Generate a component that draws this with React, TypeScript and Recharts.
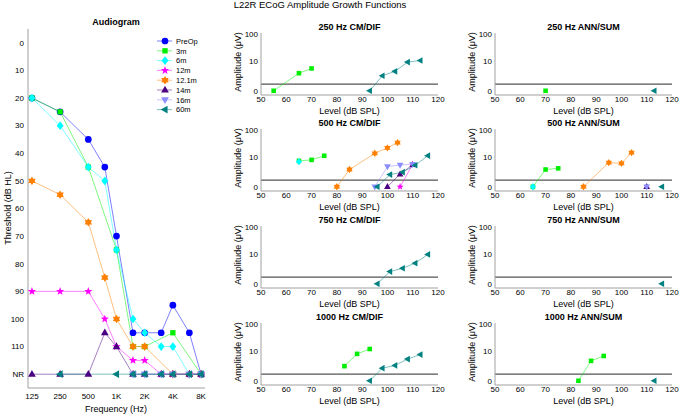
import { Line, LineChart, ReferenceLine, XAxis, YAxis } from 'recharts';

// audiogram
const FREQ_HZ = [125, 250, 500, 750, 1000, 1500, 2000, 3000, 4000, 6000, 8000];
const OCTAVE_LABELS = ['125', '250', '500', '1K', '2K', '4K', '8K'];
const THRESH_TICKS = [0, 10, 20, 30, 40, 50, 60, 70, 80, 90, 100, 110, 120];
const PREOP = [20, 25, 35, 45, 70, 105, 105, 105, 95, 105, 120];
const M3 = [20, 25, 45, null, 75, 110, 110, null, 105, null, 120];
const M6 = [20, 30, 45, 50, 75, 100, 105, 110, 110, 120, 120];
const M12 = [90, 90, 90, 100, 110, 115, 115, 120, 120, 120, 120];
const M12_1 = [50, 55, 65, 85, 100, 110, 110, null, 120, 120, 120];
const M14 = [120, 120, 120, 105, 110, 120, 120, 120, 120, 120, 120];
const M16 = [null, null, null, null, null, 120, 120, 120, 120, 120, 120];
const M60 = [null, 120, null, null, 120, 120, 120, 120, 120, 120, 120];

// growth functions: [level dB SPL, amplitude uV]
const LEVEL_TICKS = [50, 60, 70, 80, 90, 100, 110, 120];
const AMP_TICKS = [0, 10, 100];
const NOISE_FLOOR = 0.72;

const CM250_3M = [[55, 0], [65, 3.2], [70, 5.2]];
const CM250_60M = [[93, 0], [98, 2.4], [103, 3.9], [108, 9.4], [113, 10.9]];
const SUM250_3M = [[70, 0]];
const SUM250_60M = [[113, 0]];

const CM500_3M = [[65, 7.3], [70, 8], [75, 11.6]];
const CM500_6M = [[65, 6.8]];
const CM500_12M = [[105, 0], [110, 5.2]];
const CM500_12_1M = [[80, 0], [85, 3.1], [95, 14.4], [100, 23], [104, 36]];
const CM500_14M = [[100, 0], [105, 1.8], [110, 5]];
const CM500_16M = [[95, 0], [100, 4.2], [105, 4.9], [110, 5.3]];
const CM500_60M = [[96, 0], [101, 1.7], [106, 2.3], [111, 4.8], [116, 11.7]];
const SUM500_3M = [[65, 0], [70, 3.1], [75, 3.5]];
const SUM500_6M = [[65, 0]];
const SUM500_12_1M = [[85, 0], [95, 6.2], [100, 5.8], [104, 15.3]];
const SUM500_14M = [[110, 0]];
const SUM500_16M = [[110, 0]];
const SUM500_60M = [[116, 0]];

const CM750_60M = [[96, 0], [101, 1.7], [106, 2.55], [111, 4.4], [116, 10]];
const SUM750_60M = [[116, 0]];

const CM1000_3M = [[83, 2.3], [88, 8], [93, 12.4]];
const CM1000_60M = [[93, 0], [98, 1.8], [103, 2.5], [108, 4.9], [113, 7.5]];
const SUM1000_3M = [[83, 0], [88, 4.1], [93, 6.6]];
const SUM1000_60M = [[113, 0]];

const FONT = '"Liberation Sans", Arial, sans-serif';
const AXIS = '#a0a0a0';
const TICK = { fontSize: 8, fill: '#000', fontFamily: FONT };

type Shape = 'circle' | 'square' | 'diamond' | 'star5' | 'hex' | 'up' | 'down' | 'left';

const STYLES: Record<string, { name: string; color: string; shape: Shape }> = {
  preop: { name: 'PreOp', color: '#0000ff', shape: 'circle' },
  m3: { name: '3m', color: '#00ee00', shape: 'square' },
  m6: { name: '6m', color: '#00ffff', shape: 'diamond' },
  m12: { name: '12m', color: '#ff00ff', shape: 'star5' },
  m12_1: { name: '12.1m', color: '#ff8000', shape: 'hex' },
  m14: { name: '14m', color: '#4b0082', shape: 'up' },
  m16: { name: '16m', color: '#8c8cff', shape: 'down' },
  m60: { name: '60m', color: '#008080', shape: 'left' },
};
const ORDER = ['preop', 'm3', 'm6', 'm12', 'm12_1', 'm14', 'm16', 'm60'];
const AUDIO_VALUES: Record<string, (number | null)[]> = {
  preop: PREOP, m3: M3, m6: M6, m12: M12, m12_1: M12_1, m14: M14, m16: M16, m60: M60,
};

const AUDIO_ROWS = FREQ_HZ.map((f, i) => {
  const row: Record<string, number | null> = { x: Math.log2(f / 125) };
  ORDER.forEach((k) => (row[k] = AUDIO_VALUES[k][i]));
  return row;
});

const toT = (v: number) => Math.log10(1 + v);
const pts = (arr: number[][]) => arr.map(([x, v]) => ({ x, t: toT(v) }));

const PANELS = [
  { title: '250 Hz CM/DIF', col: 0, row: 0, series: { m3: CM250_3M, m60: CM250_60M } },
  { title: '250 Hz ANN/SUM', col: 1, row: 0, series: { m3: SUM250_3M, m60: SUM250_60M } },
  {
    title: '500 Hz CM/DIF', col: 0, row: 1,
    series: { m3: CM500_3M, m6: CM500_6M, m12: CM500_12M, m12_1: CM500_12_1M, m14: CM500_14M, m16: CM500_16M, m60: CM500_60M },
  },
  {
    title: '500 Hz ANN/SUM', col: 1, row: 1,
    series: { m3: SUM500_3M, m6: SUM500_6M, m12_1: SUM500_12_1M, m14: SUM500_14M, m16: SUM500_16M, m60: SUM500_60M },
  },
  { title: '750 Hz CM/DIF', col: 0, row: 2, series: { m60: CM750_60M } },
  { title: '750 Hz ANN/SUM', col: 1, row: 2, series: { m60: SUM750_60M } },
  { title: '1000 Hz CM/DIF', col: 0, row: 3, series: { m3: CM1000_3M, m60: CM1000_60M } },
  { title: '1000 Hz ANN/SUM', col: 1, row: 3, series: { m3: SUM1000_3M, m60: SUM1000_60M } },
];

const COL_X = [261, 495];
const ROW_Y = [33, 129, 226, 323];

function Marker({ cx, cy, shape, color, s }: { cx: number; cy: number; shape: Shape; color: string; s: number }) {
  if (shape === 'circle') return <circle cx={cx} cy={cy} r={s * 0.78} fill={color} />;
  if (shape === 'square') return <rect x={cx - s * 0.62} y={cy - s * 0.62} width={s * 1.24} height={s * 1.24} fill={color} />;
  let p: number[][] = [];
  if (shape === 'diamond') p = [[0, -s], [s * 0.8, 0], [0, s], [-s * 0.8, 0]];
  if (shape === 'up') p = [[0, -s], [s * 0.9, s * 0.6], [-s * 0.9, s * 0.6]];
  if (shape === 'down') p = [[0, s], [s * 0.9, -s * 0.6], [-s * 0.9, -s * 0.6]];
  if (shape === 'left') p = [[-s, 0], [s * 0.6, -s * 0.9], [s * 0.6, s * 0.9]];
  if (shape === 'star5' || shape === 'hex') {
    const n = shape === 'star5' ? 5 : 6;
    const inner = shape === 'star5' ? 0.42 : 0.6;
    for (let i = 0; i < n * 2; i++) {
      const a = -Math.PI / 2 + (i * Math.PI) / n;
      const r = i % 2 === 0 ? s : s * inner;
      p.push([r * Math.cos(a), r * Math.sin(a)]);
    }
  }
  const d = p.map(([x, y], i) => `${i ? 'L' : 'M'}${cx + x},${cy + y}`).join('') + 'Z';
  return <path d={d} fill={color} />;
}

const dotFor = (key: string, s: number) => (props: any) => {
  const { cx, cy, index } = props;
  if (cx == null || cy == null || props.value == null) return <g key={`${key}-${index}`} />;
  const st = STYLES[key];
  return (
    <g key={`${key}-${index}`}>
      <Marker cx={cx} cy={cy} shape={st.shape} color={st.color} s={s} />
    </g>
  );
};

function Label({ x, y, children, size = 9, bold = false, rotate = 0 }: any) {
  return (
    <div
      style={{
        position: 'absolute', left: x, top: y, fontSize: size, fontWeight: bold ? 'bold' : 'normal',
        transform: `translate(-50%, -50%) rotate(${rotate}deg)`, whiteSpace: 'nowrap', lineHeight: 1,
        fontFamily: FONT, color: '#000',
      }}
    >
      {children}
    </div>
  );
}

function Audiogram() {
  return (
    <>
      <div style={{ position: 'absolute', left: 0, top: 0 }}>
        <LineChart width={230} height={415} data={AUDIO_ROWS} margin={{ top: 29, right: 25, bottom: 0, left: 0 }}>
          <XAxis
            type="number" dataKey="x" domain={[-0.14, 6.14]} ticks={[0, 1, 2, 3, 4, 5, 6]} interval={0}
            tickFormatter={(v) => OCTAVE_LABELS[v]} height={27} tickSize={0} tickMargin={5}
            tickLine={false} axisLine={{ stroke: AXIS }} tick={TICK} allowDataOverflow
          />
          <YAxis
            type="number" reversed domain={[-5, 125]} ticks={THRESH_TICKS} interval={0}
            tickFormatter={(v) => (v === 120 ? 'NR' : String(v))} width={28} tickSize={0} tickMargin={4}
            tickLine={false} axisLine={{ stroke: AXIS }} tick={TICK} allowDataOverflow
          />
          {ORDER.map((k) => (
            <Line
              key={k} dataKey={k} stroke={STYLES[k].color} strokeOpacity={0.5} strokeWidth={1}
              connectNulls dot={dotFor(k, 4.3)} activeDot={false} isAnimationActive={false}
            />
          ))}
        </LineChart>
      </div>
      <svg style={{ position: 'absolute', left: 150, top: 34 }} width={75} height={84}>
        {ORDER.map((k, i) => {
          const y = 7 + i * 9.8;
          return (
            <g key={k}>
              <line x1={7} x2={22} y1={y} y2={y} stroke={STYLES[k].color} strokeOpacity={0.5} />
              <Marker cx={15} cy={y} shape={STYLES[k].shape} color={STYLES[k].color} s={4.3} />
              <text x={26} y={y + 2.7} fontSize={7.5} fontFamily={FONT}>{STYLES[k].name}</text>
            </g>
          );
        })}
      </svg>
      <Label x={116} y={22} bold>Audiogram</Label>
      <Label x={116} y={409}>Frequency (Hz)</Label>
      <Label x={8} y={208} rotate={-90}>Threshold (dB HL)</Label>
    </>
  );
}

function GrowthPanel({ title, col, row, series }: { title: string; col: number; row: number; series: Record<string, number[][]> }) {
  const left = COL_X[col];
  const top = ROW_Y[row];
  return (
    <>
      <div style={{ position: 'absolute', left: left - 30, top: top - 4 }}>
        <LineChart width={217} height={80} margin={{ top: 4, right: 10, bottom: 0, left: 0 }}>
          <XAxis
            type="number" dataKey="x" domain={[50, 120]} ticks={LEVEL_TICKS} interval={0} height={14}
            tickSize={0} tickMargin={1} tickLine={false} axisLine={{ stroke: AXIS }} tick={TICK} allowDataOverflow
          />
          <YAxis
            type="number" domain={[-0.15, 2.05]} ticks={AMP_TICKS.map(toT)} interval={0}
            tickFormatter={(v) => String(Math.round(10 ** v - 1))} width={30} tickSize={0} tickMargin={3}
            tickLine={false} axisLine={{ stroke: AXIS }} tick={TICK} allowDataOverflow
          />
          <ReferenceLine y={toT(NOISE_FLOOR)} stroke="#555" strokeWidth={1.2} />
          {ORDER.filter((k) => series[k]).map((k) => (
            <Line
              key={k} data={pts(series[k])} dataKey="t" stroke={STYLES[k].color} strokeOpacity={0.5}
              strokeWidth={1} dot={dotFor(k, 3.7)} activeDot={false} isAnimationActive={false}
            />
          ))}
        </LineChart>
      </div>
      <Label x={left + 88.5} y={top - 6} bold>{title}</Label>
      <Label x={left + 88.5} y={top + 78}>Level (dB SPL)</Label>
      <Label x={left - 23} y={top + 29} rotate={-90}>Amplitude (μV)</Label>
    </>
  );
}

export default function App() {
  return (
    <div style={{ position: 'absolute', left: 0, top: 0, width: 680, height: 415, background: '#fff', overflow: 'hidden' }}>
      <Audiogram />
      <Label x={320} y={5} size={9.5}>L22R ECoG Amplitude Growth Functions</Label>
      {PANELS.map((p) => (
        <GrowthPanel key={p.title} {...p} />
      ))}
    </div>
  );
}
